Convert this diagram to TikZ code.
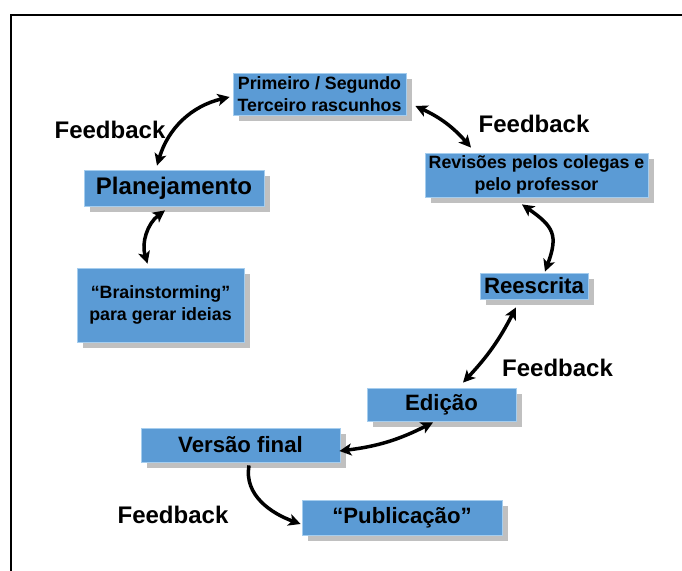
\documentclass[tikz,border=0pt]{standalone}
\usepackage{fontspec}
\setmainfont{Liberation Sans}
\usetikzlibrary{arrows.meta,shadows}
\definecolor{boxblue}{RGB}{91,155,213}
\definecolor{boxedge}{RGB}{165,205,238}
\definecolor{shadowgray}{RGB}{192,192,192}
\begin{document}
\begin{tikzpicture}[x=1pt,y=1pt,
  box/.style={draw=boxedge, line width=0.8pt, fill=boxblue, inner sep=0pt, align=center,
    font=\bfseries\fontsize{17.8}{22}\selectfont,
    drop shadow={shadow xshift=6pt, shadow yshift=-6pt, fill=shadowgray, opacity=1}},
  bigtext/.style={font=\bfseries\fontsize{22.2}{26}\selectfont},
  fb/.style={font=\bfseries\fontsize{24}{28}\selectfont, inner sep=0pt},
  link/.style={line width=3.5pt, {Stealth[length=12pt,width=12pt,inset=3pt]}-{Stealth[length=12pt,width=12pt,inset=3pt]}},
  oneway/.style={line width=3.5pt, -{Stealth[length=12pt,width=12pt,inset=3pt]}}]
\useasboundingbox (0,0) rectangle (682,570);
\fill[white] (0,0) rectangle (682,570);
% frame
\draw[line width=2pt] (11,-5) -- (11,555) -- (690,555);

% boxes
\node[box, minimum width=173pt, minimum height=42pt] (prim) at (319.5,476) {Primeiro / Segundo\\Terceiro rascunhos};
\node[box, font=\bfseries\fontsize{24}{28}\selectfont, minimum width=180pt, minimum height=36pt] (plan) at (174,382) {Planejamento};
\node[box, minimum width=167pt, minimum height=74pt] (brain) at (160.5,265) {“Brainstorming”\\para gerar ideias};
\node[box, minimum width=223pt, minimum height=44pt] (rev) at (536.5,395) {Revisões pelos colegas e\\pelo professor};
\node[box, bigtext, minimum width=108pt, minimum height=26pt] (rees) at (534,284) {Reescrita};
\node[box, bigtext, minimum width=149pt, minimum height=33pt] (edic) at (441.5,165.5) {Edição};
\node[box, bigtext, minimum width=199pt, minimum height=34pt] (vers) at (240.5,125) {Versão final};
\node[box, bigtext, minimum width=200pt, minimum height=35pt] (pub) at (402,52.5) {“Publicação”};

% feedback labels
\node[fb] (fb1) at (110,440) {Feedback};
\node[fb] (fb2) at (534,446) {Feedback};
\node[fb] (fb3) at (557.5,202) {Feedback};
\node[fb] (fb4) at (173,55) {Feedback};

% connectors
\draw[link] ([shift={(-17pt,4pt)}]plan.north) to[bend left=30] ([shift={(-3pt,-3pt)}]prim.west);
\draw[link] ([shift={(9pt,-12pt)}]prim.east) to[bend left=12] ([shift={(-65.5pt,5pt)}]rev.north);
\draw[link] ([shift={(-14.5pt,-7pt)}]rev.south) to[out=-35,in=70,looseness=1.4] ([shift={(11pt,1pt)}]rees.north);
\draw[link] ([shift={(-18pt,-8pt)}]rees.south) to[bend left=8] ([shift={(21.5pt,5pt)}]edic.north);
\draw[link] ([shift={(-8.5pt,-1pt)}]edic.south) to[bend left=10] ([shift={(-1pt,-6pt)}]vers.east);
\draw[link] ([shift={(-9pt,-4pt)}]plan.south) to[bend right=35] ([shift={(-13pt,4pt)}]brain.north);
\draw[oneway] ([shift={(8.5pt,-3pt)}]vers.south) to[out=-100,in=160] ([shift={(-1pt,-6.5pt)}]pub.west);
\end{tikzpicture}
\end{document}
